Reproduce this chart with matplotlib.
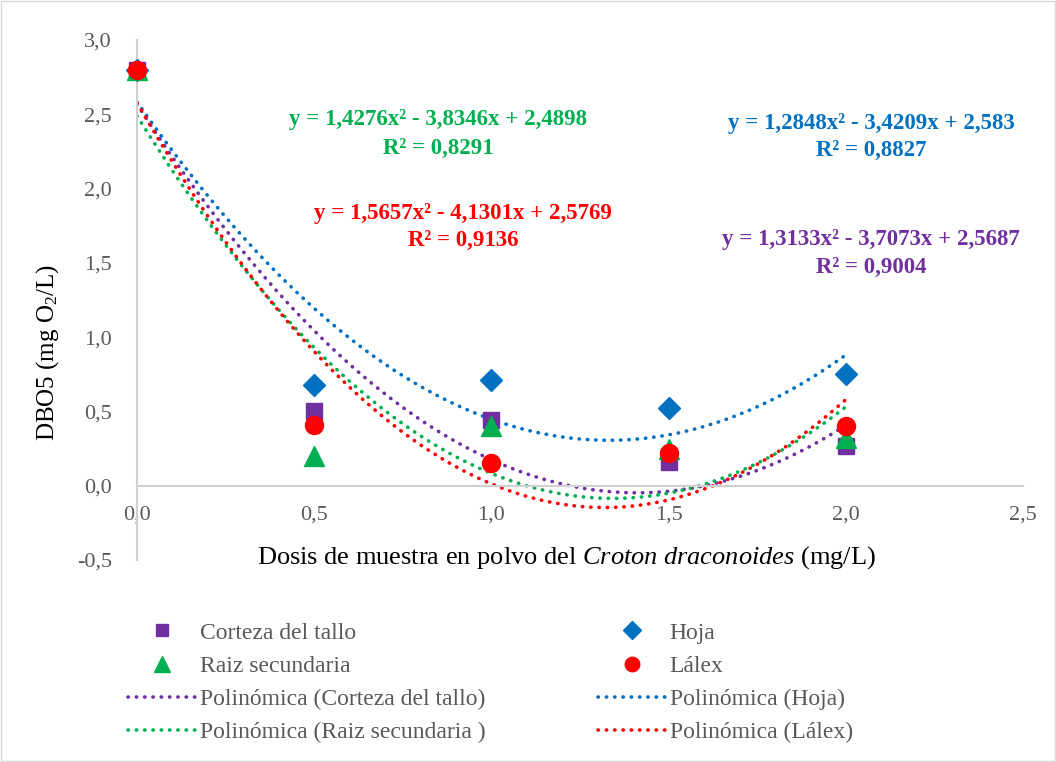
import numpy as np
import matplotlib
matplotlib.use("Agg")
import matplotlib.pyplot as plt

plt.rcParams['font.family'] = ['Liberation Serif', 'DejaVu Serif']
plt.rcParams['mathtext.fontset'] = 'custom'
plt.rcParams['mathtext.rm'] = 'Liberation Serif'
plt.rcParams['mathtext.it'] = 'Liberation Serif:italic'

# data
dosis = [0.0, 0.5, 1.0, 1.5, 2.0]
corteza = [2.80, 0.50, 0.44, 0.16, 0.27]
hoja = [2.80, 0.68, 0.71, 0.52, 0.75]
raiz = [2.80, 0.20, 0.40, 0.25, 0.32]
lalex = [2.80, 0.41, 0.15, 0.22, 0.40]

# trendline coefficients (a x^2 + b x + c) shown on the chart
coef_corteza = [1.3133, -3.7073, 2.5687]
coef_hoja = [1.2848, -3.4209, 2.583]
coef_raiz = [1.4276, -3.8346, 2.4898]
coef_lalex = [1.5657, -4.1301, 2.5769]

eq_raiz = ['y = 1,4276x² - 3,8346x + 2,4898', 'R² = 0,8291']
eq_hoja = ['y = 1,2848x² - 3,4209x + 2,583', 'R² = 0,8827']
eq_lalex = ['y = 1,5657x² - 4,1301x + 2,5769', 'R² = 0,9136']
eq_corteza = ['y = 1,3133x² - 3,7073x + 2,5687', 'R² = 0,9004']

purple = '#7030A0'
blue = '#0070C0'
green = '#00B050'
red = '#FF0000'

W, H = 1056, 762
fig = plt.figure(figsize=(W / 100, H / 100), dpi=100)
ax = fig.add_axes([137 / W, 1 - 560 / H, (1023 - 137) / W, (560 - 40) / H])

xs = np.linspace(0, 2, 200)
dot = (0, (0.1, 2.2))
lkw = dict(lw=2.6, dash_capstyle='round')
l_c, = ax.plot(xs, np.polyval(coef_corteza, xs), color=purple, ls=dot, **lkw)
l_h, = ax.plot(xs, np.polyval(coef_hoja, xs), color=blue, ls=dot, **lkw)
l_r, = ax.plot(xs, np.polyval(coef_raiz, xs), color=green, ls=dot, **lkw)
l_l, = ax.plot(xs, np.polyval(coef_lalex, xs), color=red, ls=dot, **lkw)

mkw = dict(ls='none', clip_on=False)
m_c, = ax.plot(dosis, corteza, 's', color=purple, ms=11, zorder=3, **mkw)
m_h, = ax.plot(dosis, hoja, 'D', color=blue, ms=11, zorder=3, **mkw)
m_r, = ax.plot(dosis, raiz, '^', color=green, ms=14, zorder=3, **mkw)
m_l, = ax.plot(dosis, lalex, 'o', color=red, ms=13, zorder=4, **mkw)

ax.set_xlim(0, 2.5)
ax.set_ylim(-0.5, 3.0)
ax.set_xticks([0, 0.5, 1.0, 1.5, 2.0, 2.5])
ax.set_yticks([-0.5, 0, 0.5, 1.0, 1.5, 2.0, 2.5, 3.0])
ax.set_xticklabels([f"{v:.1f}".replace('.', ',') for v in ax.get_xticks()])
ax.set_yticklabels([f"{v:.1f}".replace('.', ',') for v in ax.get_yticks()])
ax.tick_params(length=0, labelsize=16, colors='#595959')
ax.tick_params(axis='y', pad=18)
ax.tick_params(axis='x', pad=14)
for s in ['top', 'right']:
    ax.spines[s].set_visible(False)
ax.spines['left'].set_position(('data', 0))
ax.spines['bottom'].set_position(('data', 0))
for s in ['left', 'bottom']:
    ax.spines[s].set_color('#D0D0D0')
    ax.spines[s].set_linewidth(1.5)
ax.patch.set_alpha(0)

fig.text(48 / W, 1 - 352 / H, 'DBO5 (mg O$_2$/L)', rotation=90, ha='center', va='center', fontsize=18)
fig.text(566 / W, 1 - 558 / H, 'Dosis de muestra en polvo del $\\it{Croton\\ draconoides}$ (mg/L)',
         ha='center', va='center', fontsize=19)

eq_kw = dict(fontsize=16.5, fontweight='bold', ha='center', va='center')
for lines, color, cx, y1, y2 in [(eq_raiz, green, 438, 120, 148),
                                 (eq_hoja, blue, 871, 123, 150),
                                 (eq_lalex, red, 463, 214, 240),
                                 (eq_corteza, purple, 871, 240, 267)]:
    fig.text(cx / W, 1 - y1 / H, lines[0], color=color, **eq_kw)
    fig.text(cx / W, 1 - y2 / H, lines[1], color=color, **eq_kw)

handles = [m_c, m_r, l_c, l_r, m_h, m_l, l_h, l_l]
labels = ['Corteza del tallo', 'Raiz secundaria', 'Polinómica (Corteza del tallo)',
          'Polinómica (Raiz secundaria )', 'Hoja', 'Lálex', 'Polinómica (Hoja)',
          'Polinómica (Lálex)']
leg = fig.legend(handles, labels, ncol=2, loc='upper left', bbox_to_anchor=(128 / W, 1 - 622 / H),
                 frameon=False, fontsize=17, handlelength=2.9, markerscale=0.8,
                 columnspacing=4.75, labelspacing=0.5, handletextpad=0.15,
                 labelcolor='#595959', borderpad=0, borderaxespad=0)

fig.patches.append(plt.Rectangle((0.001, 0.001), 0.998, 0.998, transform=fig.transFigure,
                                 fill=False, edgecolor='#D9D9D9', lw=1))

fig.savefig('out.png', dpi=100)
